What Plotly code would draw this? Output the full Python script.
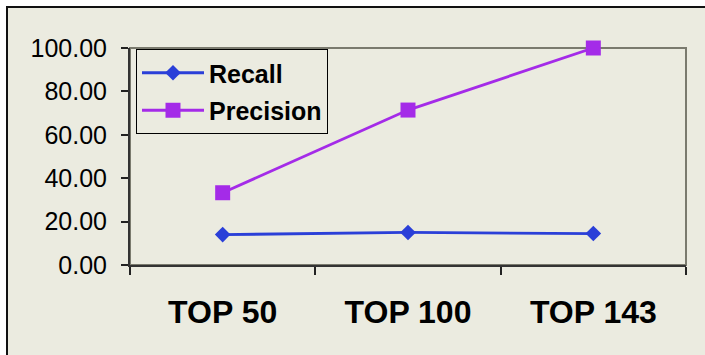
import plotly.graph_objects as go

categories = ["TOP 50", "TOP 100", "TOP 143"]
recall = [14.0, 15.0, 14.5]
precision = [33.3, 71.4, 100.0]
y_ticks = [0, 20, 40, 60, 80, 100]

BG = "#EBEBE0"
W, H = 705, 355
L, R, T, B = 130, 19, 48, 90
pw, ph = W - L - R, H - T - B
FONT = "Liberation Sans, Arial, sans-serif"


def px_x(p):
    return (p - L) / pw


def px_y(p):
    return (H - B - p) / ph


fig = go.Figure()
fig.add_trace(go.Scatter(
    x=categories, y=recall, name="Recall", mode="lines+markers",
    line=dict(color="#2A3FD8", width=2.8),
    marker=dict(symbol="diamond", size=12, color="#2A3FD8"),
    legendgroup="r", cliponaxis=False,
))
fig.add_trace(go.Scatter(
    x=categories, y=precision, name="Precision", mode="lines+markers",
    line=dict(color="#A42BE8", width=2.8),
    marker=dict(symbol="square", size=15, color="#A42BE8"),
    legendgroup="p", cliponaxis=False,
))

# chart frame (extends past the page edge on right/bottom)
fig.add_shape(type="rect", xref="paper", yref="paper",
              x0=px_x(7), x1=px_x(W + 10), y0=px_y(H + 10), y1=px_y(7),
              line=dict(color="#111111", width=2), fillcolor=BG, layer="below")
# plot-area outline (top/right in grey)
fig.add_shape(type="rect", xref="paper", yref="paper",
              x0=0, x1=1, y0=0, y1=1,
              line=dict(color="#7A7A6E", width=2), layer="below")

fig.update_layout(
    width=W, height=H,
    margin=dict(l=L, r=R, t=T, b=B, pad=0),
    paper_bgcolor="white", plot_bgcolor=BG,
    font=dict(family=FONT, color="black"),
    showlegend=True,
    legend=dict(
        x=px_x(136), y=px_y(49), xanchor="left", yanchor="top",
        bgcolor=BG, bordercolor="black", borderwidth=1,
        font=dict(size=25, family=FONT, weight="bold"),
        tracegroupgap=2, itemwidth=62,
    ),
)
fig.update_xaxes(
    type="category", tickson="boundaries", ticks="outside", ticklen=8,
    tickcolor="#222", tickwidth=1.5, showgrid=False, zeroline=False,
    showline=True, linecolor="#333", linewidth=2,
    tickfont=dict(size=32, family=FONT, weight="bold"),
    ticklabelstandoff=18,
    range=[-0.5, 2.5],
)
fig.update_yaxes(
    range=[0, 100], tickvals=y_ticks, tickformat=".2f",
    ticks="outside", ticklen=7, tickcolor="#222", tickwidth=1.5,
    showgrid=False, zeroline=False, showline=True, linecolor="#333", linewidth=2,
    tickfont=dict(size=25, family=FONT),
    ticklabelstandoff=9,
)

fig.write_html("out.html")
